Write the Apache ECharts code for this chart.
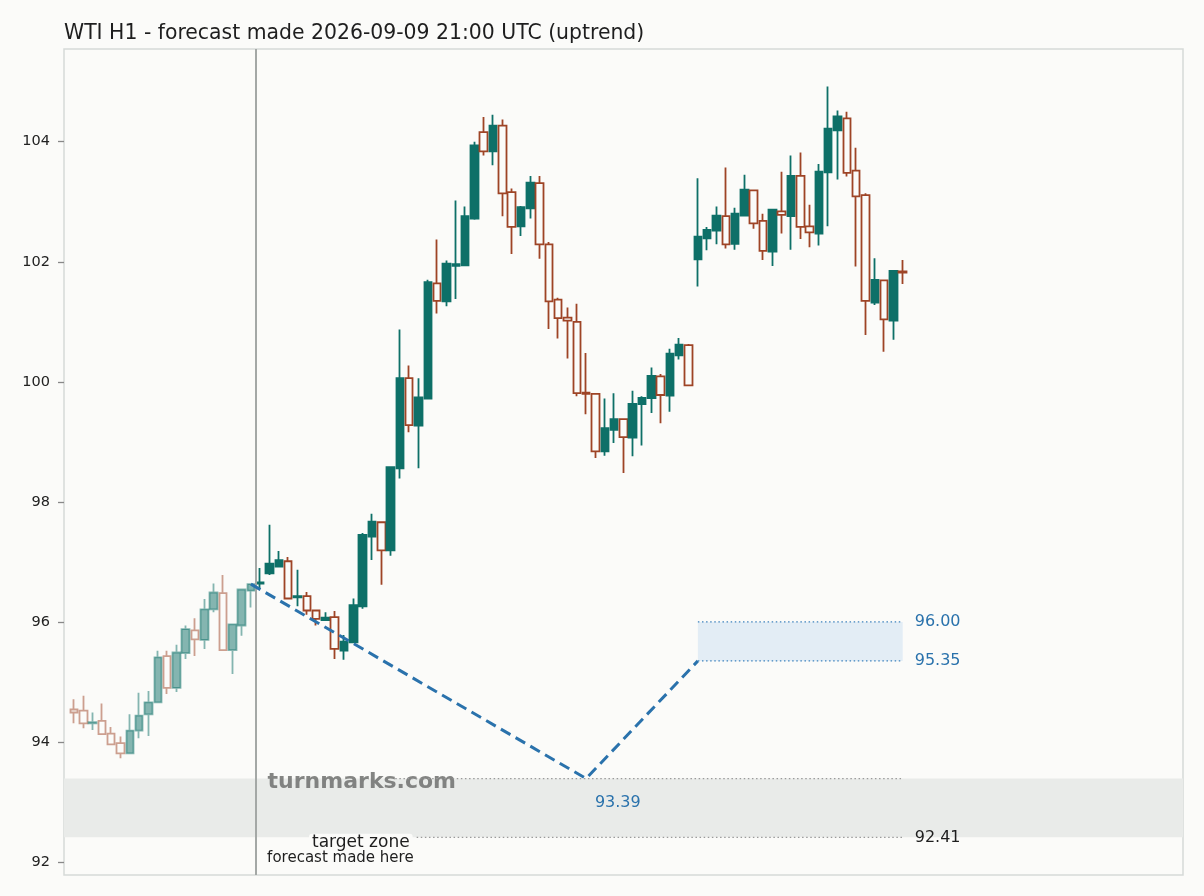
<!DOCTYPE html>
<html><head><meta charset="utf-8">
<script src="https://cdn.jsdelivr.net/npm/echarts@6/dist/echarts.min.js"></script>
<style>html,body{margin:0;padding:0;background:#fbfbf9}#c{width:1204px;height:896px}</style>
</head><body><div id="c"></div>
<script>
const opens = [94.54,94.52,94.31,94.35,94.14,93.98,93.81,94.19,94.46,94.66,95.43,94.90,95.48,95.86,95.70,96.21,96.48,95.53,95.94,96.52,
96.64,96.81,96.92,97.01,96.41,96.43,96.19,96.03,96.08,95.52,95.66,96.26,97.42,97.66,97.19,98.56,100.06,99.27,99.72,101.64,
101.34,101.93,101.94,102.72,104.16,103.84,104.27,103.16,102.59,102.89,103.31,102.29,101.37,101.07,101.00,99.82,99.80,98.84,99.20,99.38,
99.07,99.63,99.73,100.09,99.77,100.44,100.61,102.04,102.39,102.52,102.76,102.30,102.77,103.19,102.68,102.17,102.84,102.76,103.43,102.59,
102.47,103.49,104.19,104.39,103.52,103.11,101.32,101.69,101.02,101.84];
const closes = [94.49,94.31,94.33,94.13,93.96,93.81,94.19,94.44,94.66,95.41,94.90,95.49,95.88,95.71,96.21,96.49,95.53,95.96,96.54,96.63,
96.66,96.97,97.03,96.39,96.43,96.19,96.05,96.07,95.55,95.67,96.28,97.45,97.67,97.19,98.58,100.06,99.28,99.74,101.66,101.35,
101.97,101.96,102.76,103.94,103.84,104.27,103.14,102.58,102.91,103.32,102.29,101.34,101.06,101.02,99.81,99.80,98.84,99.23,99.38,99.08,
99.63,99.73,100.10,99.78,100.47,100.62,99.94,102.42,102.53,102.77,102.29,102.80,103.20,102.64,102.18,102.87,102.78,103.43,102.58,102.49,
103.50,104.22,104.42,103.48,103.09,101.35,101.70,101.04,101.85,101.82];
const lows = [94.31,94.23,94.20,94.12,93.95,93.73,93.81,94.06,94.10,94.66,94.80,94.83,95.38,95.43,95.55,96.16,95.53,95.13,95.77,96.24,
96.56,96.78,96.92,96.39,96.26,96.12,95.94,96.03,95.38,95.37,95.66,96.22,97.03,96.62,97.10,98.39,99.16,98.56,99.71,101.14,
101.26,101.38,101.94,102.70,103.77,103.61,102.76,102.13,102.43,102.72,102.05,100.88,100.72,100.39,99.76,99.46,98.73,98.77,98.98,98.48,
98.76,98.94,99.48,99.31,99.50,100.37,99.94,101.59,102.19,102.29,102.22,102.20,102.76,102.55,102.03,101.93,102.47,102.20,102.38,102.24,
102.27,102.59,103.37,103.42,101.92,100.78,101.28,100.50,100.70,101.63];
const highs = [94.71,94.77,94.49,94.64,94.25,94.09,94.46,94.82,94.85,95.52,95.52,95.62,95.94,96.06,96.38,96.64,96.78,95.96,96.54,96.63,
96.90,97.62,97.18,97.08,96.87,96.50,96.19,96.16,96.18,95.78,96.39,97.48,97.80,97.66,98.58,100.87,100.27,100.06,101.70,102.37,
102.02,103.02,102.92,104.00,104.41,104.45,104.37,103.22,102.93,103.43,103.43,102.33,101.40,101.24,101.30,100.48,99.80,99.72,99.81,99.38,
99.85,99.76,100.24,100.13,100.55,100.73,100.63,103.39,102.58,102.92,103.57,102.90,103.45,103.19,102.80,102.87,103.50,103.77,103.82,102.95,
103.63,104.92,104.52,104.50,103.90,103.14,102.06,101.69,101.85,102.03];
const yTicks = [92, 94, 96, 98, 100, 102, 104];
const pastCount = 20;
const forecastBarX = 19.5;
const forecastPath = [[19, 96.63], [55, 93.39], [67, 95.35]];
const targetLow = 92.41, targetHigh = 93.39;
const boxLow = 95.35, boxHigh = 96.00;
const boxStart = 67, boxEnd = 89;
const targetLineStart = 36.8, lowLineStart = 34.5;
const lowLabelX = 58.4;
const titleText = 'WTI H1 - forecast made 2026-09-09 21:00 UTC (uptrend)';

const BG = '#fbfbf9', UP = '#0e7068', DOWN = '#9e4426', BLUE = '#2a72ac';
const FONT = 'DejaVu Sans';

const candles = opens.map((o, i) => [i, o, closes[i], lows[i], highs[i]]);
const past = candles.slice(0, pastCount);
const recent = candles.slice(pastCount);

const chart = echarts.init(document.getElementById('c'));
const candleStyle = { color: UP, color0: 'transparent', borderColor: UP, borderColor0: DOWN, borderWidth: 1.8 };

function hline(y, x0, x1, color, z) {
  return { type: 'line', data: [[x0, y], [x1, y]], symbol: 'none', silent: true, z: z || 6,
    lineStyle: { color: color, width: 1.3, type: [1.5, 2.6] } };
}

chart.setOption({
  backgroundColor: BG,
  animation: false,
  title: { text: titleText, left: 59, top: 19, textStyle: { fontFamily: FONT, fontSize: 20.4, fontWeight: 'normal', color: '#1e1e1e' } },
  grid: { left: 64, right: 21, top: 49, bottom: 21, show: true, borderColor: '#d6dad8', borderWidth: 1.5, backgroundColor: BG },
  xAxis: { type: 'value', min: -1.074, max: 119.1, axisLine: { show: false }, axisTick: { show: false }, axisLabel: { show: false }, splitLine: { show: false } },
  yAxis: { type: 'value', position: 'left', min: 91.783, max: 105.545, axisLine: { show: false, onZero: false },
    axisTick: { show: true, inside: false, length: 6, customValues: yTicks, lineStyle: { color: '#888', width: 1.3 } },
    axisLabel: { customValues: yTicks, margin: 14, fontFamily: FONT, fontSize: 14.5, color: '#222' },
    splitLine: { show: false } },
  series: [
    { type: 'line', data: [], z: 1, silent: true,
      markArea: { silent: true, itemStyle: { color: '#e9ebe9' }, data: [[{ yAxis: targetLow }, { yAxis: targetHigh }]] },
      markLine: { silent: true, symbol: 'none', label: { show: false }, lineStyle: { color: '#a4a8a6', width: 2, type: 'solid' }, data: [{ xAxis: forecastBarX }] } },
    { type: 'line', data: [], z: 1, silent: true,
      markArea: { silent: true, itemStyle: { color: '#e3edf5' }, data: [[{ coord: [boxStart, boxHigh] }, { coord: [boxEnd, boxLow] }]] } },
    hline(targetHigh, lowLineStart, boxEnd, '#9a9a9a'),
    hline(targetLow, targetLineStart, boxEnd, '#9a9a9a'),
    hline(boxHigh, boxStart, boxEnd, '#3d82bd'),
    hline(boxLow, boxStart, boxEnd, '#3d82bd'),
    { type: 'candlestick', data: past, encode: { x: 0, y: [1, 2, 3, 4] }, barWidth: 8, z: 4,
      itemStyle: Object.assign({ opacity: 0.5 }, candleStyle) },
    { type: 'candlestick', data: recent, encode: { x: 0, y: [1, 2, 3, 4] }, barWidth: 8, z: 4,
      itemStyle: candleStyle },
    { type: 'line', data: forecastPath, symbol: 'none', z: 7, silent: true,
      lineStyle: { color: BLUE, width: 3, type: [11, 6] } }
  ]
});

function px(x, y) { return chart.convertToPixel({ gridIndex: 0 }, [x, y]); }
const pBoxHigh = px(boxEnd, boxHigh), pBoxLow = px(boxEnd, boxLow), pTL = px(boxEnd, targetLow);
const pLow = px(lowLabelX, targetHigh);
const pWm = px(forecastBarX, targetHigh);
const pTZ = px(targetLineStart, targetLow);
const txt = (x, y, text, o) => ({ type: 'text', x: x, y: y, z: o.z || 50, style: Object.assign({ text: text, fontFamily: FONT, verticalAlign: 'middle' }, o.style) });
chart.setOption({
  graphic: [
    txt(pBoxHigh[0] + 12, pBoxHigh[1], '96.00', { style: { fontSize: 16, fill: BLUE, align: 'left' } }),
    txt(pBoxLow[0] + 12, pBoxLow[1], '95.35', { style: { fontSize: 16, fill: BLUE, align: 'left' } }),
    txt(pTL[0] + 12, pTL[1], '92.41', { style: { fontSize: 16, fill: '#1e1e1e', align: 'left' } }),
    txt(pLow[0], pLow[1] + 24, '93.39', { style: { fontSize: 16, fill: BLUE, align: 'center' } }),
    txt(pWm[0] + 12, pWm[1] + 4, 'turnmarks.com', { z: 5, style: { fontSize: 22, fontWeight: 'bold', fill: 'rgba(110,112,110,0.85)', align: 'left' } }),
    txt(pTZ[0] - 4, pTZ[1] + 5, 'target zone', { style: { fontSize: 17, fill: '#1e1e1e', align: 'right', backgroundColor: BG, padding: [0, 3, 0, 3], borderRadius: 3 } }),
    txt(pTZ[0] - 3, pTZ[1] + 21, 'forecast made here', { style: { fontSize: 15, fill: '#1e1e1e', align: 'right' } })
  ]
});
</script></body></html>
